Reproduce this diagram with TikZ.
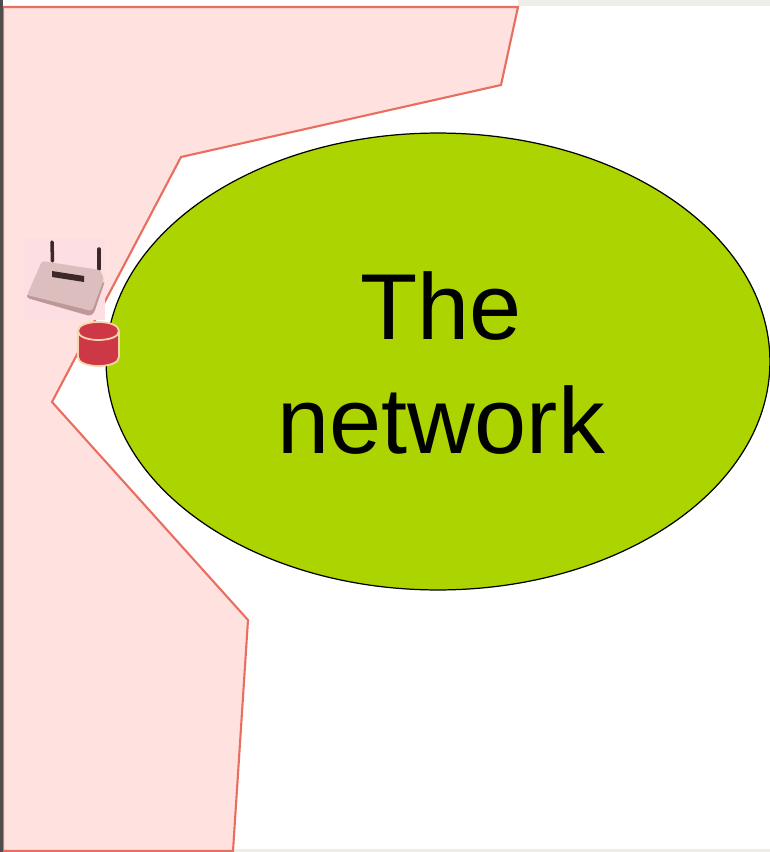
\documentclass[tikz,border=0pt]{standalone}
\usepackage{xcolor}
\usepackage{fontspec}
\setmainfont{Liberation Sans}
\usetikzlibrary{shapes.geometric, positioning}
\definecolor{zonered}{RGB}{232,110,96}
\definecolor{zonefill}{RGB}{255,225,224}
\definecolor{netgreen}{RGB}{172,212,0}
\definecolor{dbred}{RGB}{206,56,70}
\definecolor{dbrim}{RGB}{246,214,170}
\definecolor{stripgrey}{RGB}{238,238,230}
\definecolor{edgegrey}{RGB}{80,76,76}
\definecolor{routerbg}{RGB}{253,222,226}
\definecolor{routertop}{RGB}{220,190,190}
\definecolor{routerfront}{RGB}{190,152,152}
\definecolor{routerdark}{RGB}{60,40,40}
\tikzset{
  zone/.style={draw=zonered, fill=zonefill, line width=1.2pt, line join=miter},
  network/.style={ellipse, draw=black, fill=netgreen, line width=0.7pt,
    minimum width=13.28cm, minimum height=9.14cm, inner sep=0pt},
  netlabel/.style={align=center, font=\fontsize{53.3}{65}\selectfont},
  store/.style={draw=dbrim, fill=dbred, line width=1pt},
  antenna/.style={draw=routerdark, line width=2pt, line cap=round}
}
\begin{document}
\begin{tikzpicture}[x=0.02cm, y=-0.02cm]
  \useasboundingbox (0,0) rectangle (770,852);
  \fill[white] (0,0) rectangle (770,852);
  % page edges
  \fill[stripgrey] (518,0) rectangle (770,6);
  \fill[stripgrey] (233,849) rectangle (770,852);
  % wireless zone
  \draw[zone] (3,7) -- (518,7) -- (501,85) -- (181,157) -- (52,402) -- (248,620)
    -- (233,851) -- (3,851) -- cycle;
  \fill[edgegrey] (0,0) rectangle (3,852);
  % network
  \node[network] (net) at (438,361.5) {};
  \node[netlabel] (netname) at (441,363) {The\\network};
  % router
  \fill[routerbg] (24,238) rectangle (105,320);
  \draw[antenna] (52,242) -- (52.5,261);
  \draw[antenna] (99,249) -- (99,269);
  \fill[routerfront, rounded corners=1.5pt] (27,294) -- (27,298) -- (90,316) -- (94,313) -- (105,281) -- (92,290) -- cycle;
  \fill[routertop, rounded corners=1.5pt] (42,261) -- (100,270) -- (104,279) -- (92,311) -- (27,295) -- cycle;
  \fill[routerdark] (52,271) -- (84,276) -- (84,282) -- (52,277) -- cycle;
  % storage
  \draw[store] (78,331) .. controls (78,319) and (119,319) .. (119,331)
    -- (119,357) .. controls (119,369) and (78,369) .. (78,357) -- cycle;
  \draw[store, fill=none] (78,331) .. controls (78,343) and (119,343) .. (119,331);
\end{tikzpicture}
\end{document}
